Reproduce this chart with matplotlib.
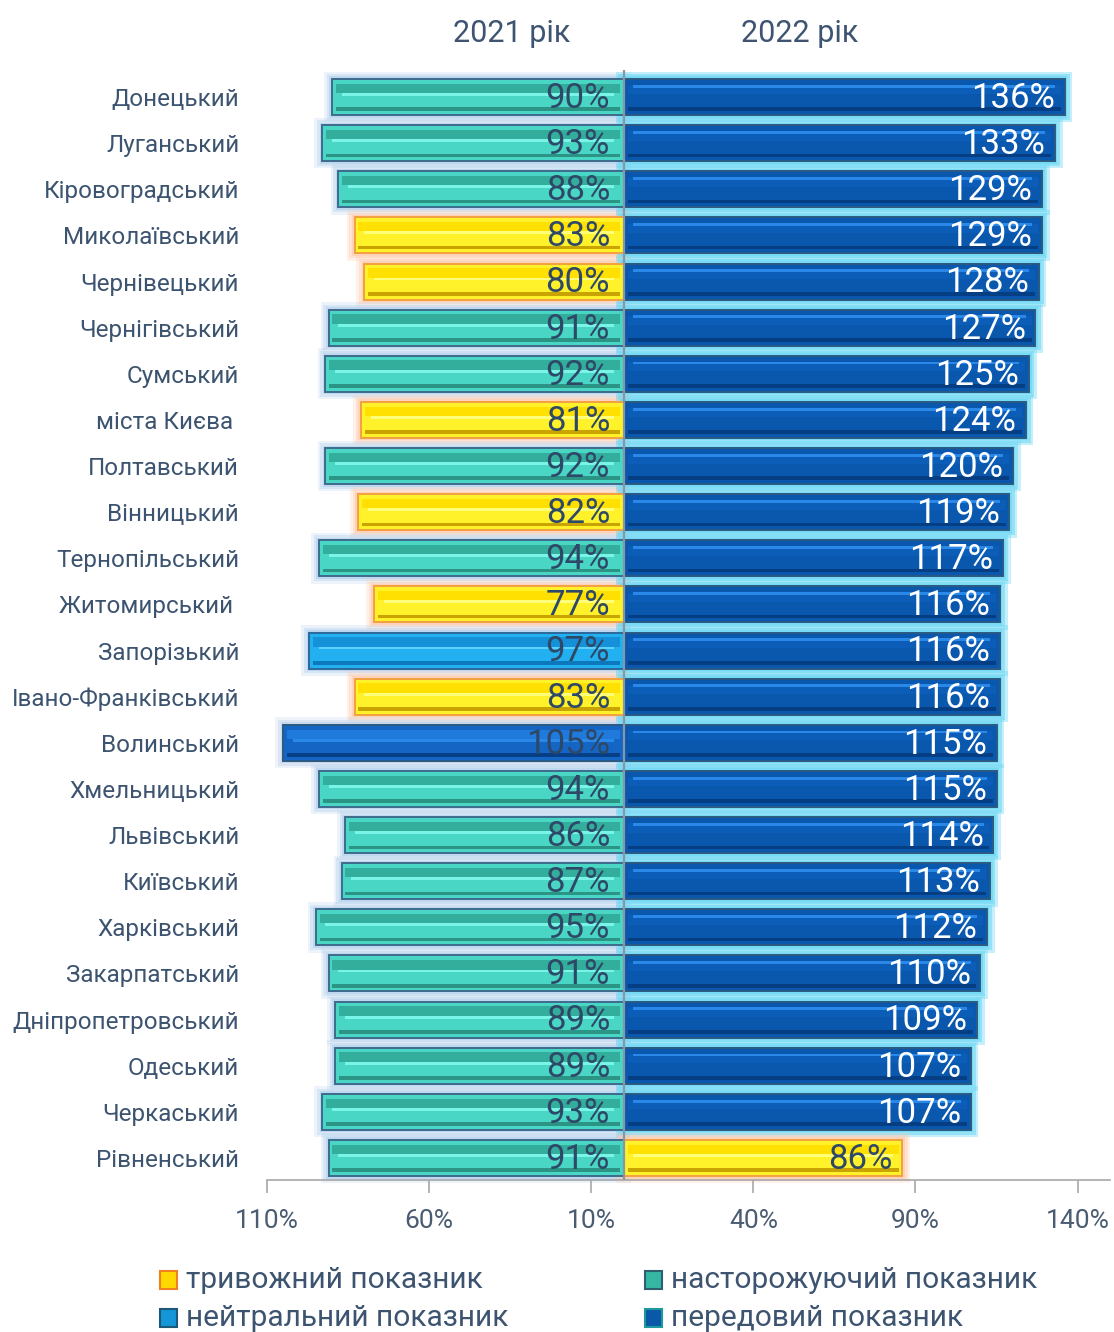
import matplotlib
matplotlib.use("Agg")
import matplotlib.pyplot as plt
from matplotlib.patches import Rectangle

plt.rcParams['font.family'] = ['Roboto', 'DejaVu Sans']

# ---------------- data ----------------
regions = ["Донецький", "Луганський", "Кіровоградський", "Миколаївський",
           "Чернівецький", "Чернігівський", "Сумський", "міста Києва ",
           "Полтавський", "Вінницький", "Тернопільський", "Житомирський ",
           "Запорізький", "Івано-Франківський", "Волинський", "Хмельницький",
           "Львівський", "Київський", "Харківський", "Закарпатський",
           "Дніпропетровський", "Одеський", "Черкаський", "Рівненський"]
values_2021 = [90, 93, 88, 83, 80, 91, 92, 81, 92, 82, 94, 77, 97, 83, 105,
               94, 86, 87, 95, 91, 89, 89, 93, 91]
values_2022 = [136, 133, 129, 129, 128, 127, 125, 124, 120, 119, 117, 116,
               116, 116, 115, 115, 114, 113, 112, 110, 109, 107, 107, 86]
# indicator category: a = тривожний, w = насторожуючий, n = нейтральний, l = передовий
cat_2021 = ["w", "w", "w", "a", "a", "w", "w", "a", "w", "a", "w", "a", "n",
            "a", "l", "w", "w", "w", "w", "w", "w", "w", "w", "w"]
cat_2022 = ["l"] * 23 + ["a"]
tick_values = [-110, -60, -10, 40, 90, 140]
tick_labels = ["110%", "60%", "10%", "40%", "90%", "140%"]
year_titles = ["2021 рік", "2022 рік"]
legend_keys = ["a", "w", "n", "l"]
legend_labels = ["тривожний показник", "насторожуючий показник",
                 "нейтральний показник", "передовий показник"]

# ---------------- styles ----------------
STY = {
    "w": dict(base="#4AD6C4", top="#33AE9C", hi="#7AF4E6", dark="#2C9484",
              edge="#3E6C8C", glow="#A9CBEB", galpha=(0.22, 0.32, 0.5),
              hipos=-0.07, toppos=-0.24, leg="#34B8A4", legedge="#2E5F70"),
    "a": dict(base="#FFF22A", top="#FFE000", hi="#FFFF7A", dark="#C9A400",
              edge="#F2A040", glow="#FFC8A8", galpha=(0.25, 0.35, 0.55),
              hipos=-0.07, toppos=-0.24, leg="#FFD800", legedge="#F08020"),
    "n": dict(base="#22B0F0", top="#1491D8", hi="#5CD0FF", dark="#0E78BC",
              edge="#2C6A9A", glow="#A6C8EC", galpha=(0.22, 0.32, 0.5),
              hipos=-0.07, toppos=-0.24, leg="#1496D8", legedge="#1E5878"),
    "l": dict(base="#0A57AE", top="#0C5DB8", hi="#2A88E8", dark="#053E82",
              edge="#2A5A82", glow="#6ED8F4", galpha=(0.4, 0.55, 0.75),
              hipos=-0.30, toppos=-0.2, leg="#0A58A8", legedge="#1E9A9A"),
}
STY_left_l = dict(STY["l"])
STY_left_l.update(glow="#B4C8E8", base="#1566C4", top="#1F7ADB",
                  dark="#073F86", galpha=(0.22, 0.32, 0.5), hipos=-0.07,
                  toppos=-0.24)

DARK_TXT = "#2E4868"
LABEL_TXT = "#3D5470"

fig = plt.figure(figsize=(11.14, 13.32), dpi=100)
ax = fig.add_axes([267 / 1114, 1 - 1180 / 1332, 843 / 1114, 1110 / 1332])
ax.set_xlim(-110, 150)
n = len(regions)
ax.set_ylim(n - 1 + 0.477, -0.585)

H = 0.78


def draw_bar(y, left, width, s):
    for (py, px), a in zip([(0.32, 2.4), (0.21, 1.6), (0.11, 0.8)], s["galpha"]):
        ax.barh(y, width + 2 * px, left=left - px, height=H + py,
                color=s["glow"], alpha=a, lw=0, zorder=1, clip_on=False)
    ax.barh(y, width, left=left, height=H, color=s["base"],
            edgecolor=s["edge"], lw=1.4, zorder=2)
    ins = 1.2
    ax.barh(y + H * s["toppos"], width - 2 * ins, left=left + ins,
            height=H * 0.26, color=s["top"], lw=0, zorder=3)
    ax.barh(y + H * s["hipos"], width - 5 * ins, left=left + 2.5 * ins,
            height=H * 0.08, color=s["hi"], lw=0, zorder=3)
    ax.barh(y + H * 0.34, width - 2 * ins, left=left + ins, height=H * 0.1,
            color=s["dark"], lw=0, zorder=3)


for i in range(n):
    v1, v2 = values_2021[i], values_2022[i]
    s1 = STY_left_l if cat_2021[i] == "l" else STY[cat_2021[i]]
    draw_bar(i, -v1, v1, s1)
    draw_bar(i, 0, v2, STY[cat_2022[i]])
    ax.text(-4.2, i + 0.03, f"{v1}%", ha="right", va="center", fontsize=25,
            color=DARK_TXT, zorder=6)
    col2 = "white" if cat_2022[i] == "l" else DARK_TXT
    ax.text(v2 - 3, i + 0.03, f"{v2}%", ha="right", va="center", fontsize=25,
            color=col2, zorder=6)

ax.axvline(0, color="#8797A6", lw=1.6, zorder=5)

ax.set_yticks(range(n))
ax.set_yticklabels(regions, fontsize=17.5, color=LABEL_TXT)
ax.tick_params(axis="y", length=0, pad=20)
ax.set_xticks(tick_values)
ax.set_xticklabels(tick_labels, fontsize=19, color="#4A5C72")
ax.tick_params(axis="x", length=9, width=1.2, color="#A8A8A8", pad=12)
for sp in ["top", "right", "left"]:
    ax.spines[sp].set_visible(False)
ax.spines["bottom"].set_color("#A8A8A8")
ax.spines["bottom"].set_linewidth(1.2)

fig.text(512 / 1114, 1 - 33 / 1332, year_titles[0], ha="center", va="center",
         fontsize=22, color="#3E5470")
fig.text(800 / 1114, 1 - 33 / 1332, year_titles[1], ha="center", va="center",
         fontsize=22, color="#3E5470")

# legend (manual, 2 columns)
col_x = [160, 645]
row_y = [1280, 1318]
for k, (key, lab) in enumerate(zip(legend_keys, legend_labels)):
    cx = col_x[k % 2]
    cy = row_y[k // 2]
    s = STY[key]
    fig.patches.append(Rectangle((cx / 1114, 1 - (cy + 9) / 1332), 17 / 1114,
                                 18 / 1332, transform=fig.transFigure,
                                 facecolor=s["leg"], edgecolor=s["legedge"],
                                 lw=1.5))
    fig.text((cx + 26) / 1114, 1 - cy / 1332, lab, ha="left", va="center",
             fontsize=21.5, color="#3D5470")

fig.savefig("out.png", dpi=100)
